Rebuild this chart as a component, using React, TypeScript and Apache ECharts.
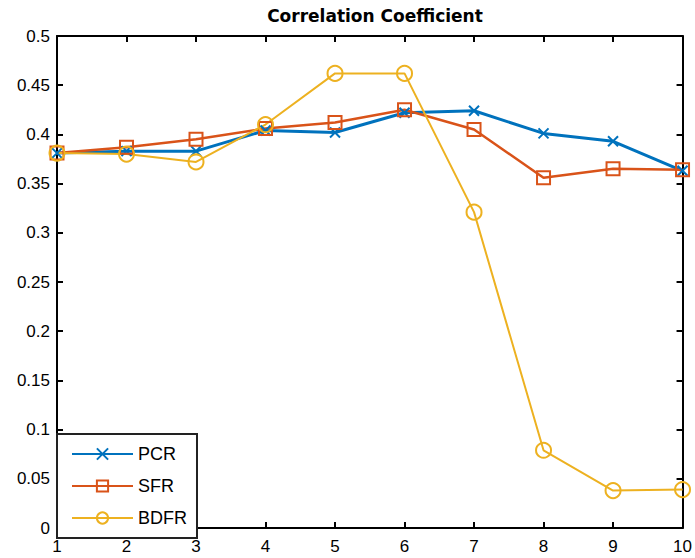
import React, { useEffect, useRef } from "react";
import * as echarts from "echarts";

const categories = [1, 2, 3, 4, 5, 6, 7, 8, 9, 10];
const pcr = [0.381, 0.383, 0.383, 0.404, 0.402, 0.422, 0.424, 0.401, 0.393, 0.363];
const sfr = [0.381, 0.387, 0.395, 0.406, 0.412, 0.425, 0.405, 0.356, 0.365, 0.364];
const bdfr = [0.381, 0.380, 0.372, 0.410, 0.462, 0.462, 0.321, 0.079, 0.038, 0.039];
const seriesNames = ["PCR", "SFR", "BDFR"];
const colors = ["#0072BD", "#D95319", "#EDB120"];

const FONT = "Liberation Sans, Arial, sans-serif";

export default function App() {
  const ref = useRef<HTMLDivElement>(null);
  useEffect(() => {
    if (!ref.current) return;
    const chart = echarts.init(ref.current, undefined, { renderer: "svg" });
    const toPairs = (arr: number[]) => categories.map((c, i) => [c, arr[i]]);
    const axisCommon = {
      axisLine: { show: true, onZero: false, lineStyle: { color: "#000", width: 2 } },
      axisTick: { show: true, inside: true, length: 6, lineStyle: { color: "#000", width: 2 } },
      splitLine: { show: false },
    };
    const mk = (i: number, data: number[], symbol: string, size: number, lw: number) => ({
      name: seriesNames[i],
      type: "line",
      data: toPairs(data),
      symbol,
      symbolSize: size,
      showAllSymbol: true,
      lineStyle: { color: colors[i], width: lw },
      itemStyle: { color: "rgba(255,255,255,0)", borderColor: colors[i], borderWidth: 2 },
      emphasis: { disabled: true },
    });
    chart.setOption({
      animation: false,
      backgroundColor: "#fff",
      color: colors,
      title: {
        text: "Correlation Coefficient",
        left: 370,
        textAlign: "center",
        top: 2,
        textStyle: { fontFamily: "DejaVu Sans", fontWeight: "bold", fontSize: 17, color: "#000" },
      },
      grid: { left: 57, right: 12, top: 36, bottom: 30, containLabel: false },
      xAxis: [
        {
          type: "value",
          min: 1,
          max: 10,
          interval: 1,
          position: "bottom",
          ...axisCommon,
          axisLabel: { color: "#000", fontFamily: FONT, fontSize: 17, margin: 10 },
        },
        {
          type: "value",
          min: 1,
          max: 10,
          interval: 1,
          position: "top",
          ...axisCommon,
          axisLabel: { show: false },
        },
      ],
      yAxis: [
        {
          type: "value",
          min: 0,
          max: 0.5,
          interval: 0.05,
          position: "left",
          ...axisCommon,
          axisLabel: {
            color: "#000",
            fontFamily: FONT,
            fontSize: 17,
            margin: 7,
            formatter: (v: number) => String(+v.toFixed(2)),
          },
        },
        {
          type: "value",
          min: 0,
          max: 0.5,
          interval: 0.05,
          position: "right",
          ...axisCommon,
          axisLabel: { show: false },
        },
      ],
      legend: {
        data: seriesNames,
        orient: "vertical",
        left: 57,
        top: 434,
        backgroundColor: "#fff",
        borderColor: "#222",
        borderWidth: 2,
        padding: [11, 10, 11, 14],
        itemWidth: 61,
        itemHeight: 14,
        itemGap: 14,
        textStyle: { fontFamily: FONT, fontSize: 18, color: "#000" },
      },
      series: [
        mk(0, pcr, "path://M0,0L10,10M10,0L0,10", 10, 3),
        mk(1, sfr, "rect", 13, 2.5),
        mk(2, bdfr, "circle", 15, 2),
      ],
    });
    return () => chart.dispose();
  }, []);
  return <div ref={ref} style={{ width: 695, height: 558, position: "absolute", left: 0, top: 0 }} />;
}
